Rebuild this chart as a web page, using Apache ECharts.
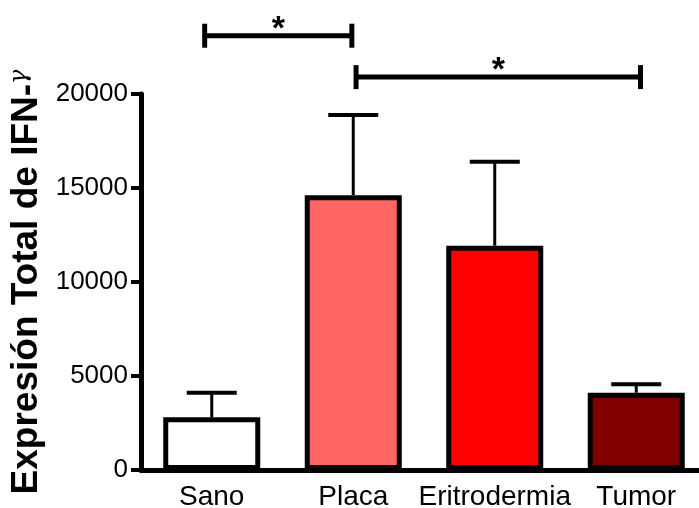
<!DOCTYPE html>
<html>
<head>
<meta charset="utf-8">
<script src="https://cdn.jsdelivr.net/npm/echarts@6/dist/echarts.min.js"></script>
<style>html,body{margin:0;padding:0;background:#fff}#c{width:699px;height:508px}</style>
</head>
<body>
<div id="c"></div>
<script>
const categories = ['Sano', 'Placa', 'Eritrodermia', 'Tumor'];
const means = [2800, 14620, 11930, 4110];
const errors = [1310, 4260, 4470, 450];
const barColors = ['#FFFFFF', '#FF6666', '#FF0000', '#800000'];
const yTicks = { min: 0, max: 20000, interval: 5000 };
// significance brackets: start / end positions in category units, height in data units
const bracketStart = [-0.05, 1.02];
const bracketEnd = [0.99, 3.03];
const bracketLevel = [23100, 20900];
const bracketLabel = ['*', '*'];

const FONT = '"Liberation Sans", Arial, Helvetica, sans-serif';
const chart = echarts.init(document.getElementById('c'), null, { renderer: 'canvas' });

const barData = means.map((v, i) => ({ value: v, itemStyle: { color: barColors[i] } }));
const errData = means.map((v, i) => [i, v, errors[i]]);
const brData = bracketStart.map((s, i) => [0, bracketLevel[i], s, bracketEnd[i], i]);

chart.setOption({
  animation: false,
  backgroundColor: '#fff',
  grid: { left: 141, top: 94, bottom: 38, width: 566, containLabel: false, outerBoundsMode: 'none' },
  xAxis: {
    type: 'category',
    data: categories,
    axisLine: { lineStyle: { color: '#000', width: 5 } },
    axisTick: { alignWithLabel: true, length: 10, lineStyle: { color: '#000', width: 4 } },
    axisLabel: { color: '#000', fontSize: 28, fontFamily: FONT, margin: 13, interval: 0, hideOverlap: false }
  },
  yAxis: {
    type: 'value',
    min: yTicks.min, max: yTicks.max, interval: yTicks.interval,
    splitLine: { show: false },
    axisLine: { show: true, lineStyle: { color: '#000', width: 5 } },
    axisTick: { show: true, length: 10, lineStyle: { color: '#000', width: 4 } },
    axisLabel: { color: '#000', fontSize: 26, fontFamily: FONT, margin: 13, formatter: function (v) { return String(v); } },
    name: '{a|Expresión Total de IFN-}{g|γ}',
    nameLocation: 'middle',
    nameRotate: 90,
    nameGap: 95,
    nameTextStyle: {
      rich: {
        a: { fontSize: 37, fontWeight: 'bold', fontFamily: FONT, color: '#000' },
        g: { fontSize: 24, fontFamily: '"DejaVu Serif", serif', fontStyle: 'italic', color: '#000', verticalAlign: 'top' }
      }
    }
  },
  series: [
    {
      type: 'bar',
      data: barData,
      barWidth: 97,
      itemStyle: { borderColor: '#000', borderWidth: 5 },
      z: 1
    },
    {
      type: 'custom',
      data: errData,
      encode: { x: 0, y: 1 },
      z: 3,
      renderItem: function (params, api) {
        const i = api.value(0), m = api.value(1), e = api.value(2);
        const base = api.coord([i, m]);
        const top = api.coord([i, m + e]);
        const half = 25;
        return {
          type: 'group',
          children: [
            { type: 'line', shape: { x1: base[0], y1: base[1], x2: top[0], y2: top[1] }, style: { stroke: '#000', lineWidth: 3 } },
            { type: 'line', shape: { x1: top[0] - half, y1: top[1], x2: top[0] + half, y2: top[1] }, style: { stroke: '#000', lineWidth: 4 } }
          ]
        };
      }
    },
    {
      type: 'custom',
      data: brData,
      encode: { x: 0, y: 1 },
      clip: false,
      z: 4,
      renderItem: function (params, api) {
        const lvl = api.value(1), s = api.value(2), e = api.value(3), k = api.value(4);
        const c0 = api.coord([0, lvl]);
        const c1 = api.coord([1, lvl]);
        const step = c1[0] - c0[0];
        const xs = c0[0] + s * step, xe = c0[0] + e * step, y = c0[1];
        const h = 12;
        return {
          type: 'group',
          children: [
            { type: 'line', shape: { x1: xs, y1: y, x2: xe, y2: y }, style: { stroke: '#000', lineWidth: 5 } },
            { type: 'line', shape: { x1: xs, y1: y - h, x2: xs, y2: y + h }, style: { stroke: '#000', lineWidth: 5 } },
            { type: 'line', shape: { x1: xe, y1: y - h, x2: xe, y2: y + h }, style: { stroke: '#000', lineWidth: 5 } },
            { type: 'text', style: { text: bracketLabel[k], x: (xs + xe) / 2, y: y + 11, align: 'center', verticalAlign: 'bottom', font: 'bold 34px ' + FONT, fill: '#000' } }
          ]
        };
      }
    }
  ]
});
</script>
</body>
</html>
